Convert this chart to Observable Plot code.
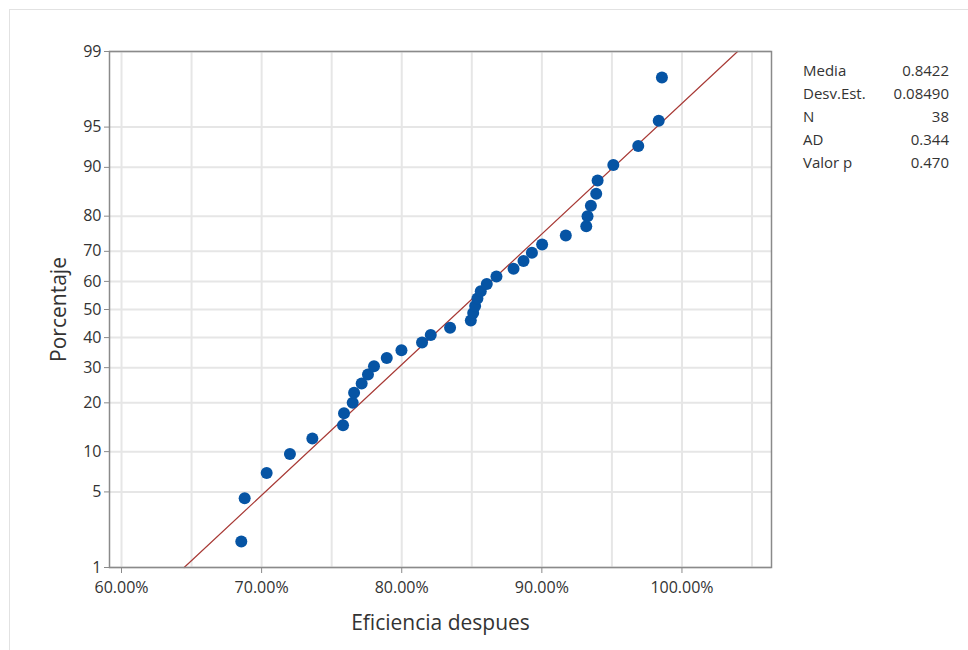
<!DOCTYPE html>
<html>
<head>
<meta charset="utf-8">
<script src="https://cdn.jsdelivr.net/npm/d3@7"></script>
<script src="https://cdn.jsdelivr.net/npm/@observablehq/plot@0.6"></script>
<style>
  html, body { margin: 0; padding: 0; background: #fff; }
  #wrap { position: relative; width: 968px; height: 650px; overflow: hidden; font-family: "Open Sans", "Noto Sans", sans-serif; }
  #border { position: absolute; left: 9px; top: 9px; width: 1200px; height: 1200px; border: 1.5px solid #e2e2e2; }
  #chart { position: absolute; left: 0; top: 0; }
  #stats { position: absolute; left: 803px; top: 59px; width: 146px; font-size: 15px; color: #333; }
  #stats div { display: flex; justify-content: space-between; height: 23px; line-height: 23px; }
</style>
</head>
<body>
<div id="wrap">
  <div id="border"></div>
  <div id="chart"></div>
  <div id="stats"></div>
</div>
<script>
// ---- data ----
const efficiency = [0.6855, 0.6879, 0.7036, 0.7202, 0.7362, 0.7581, 0.7588, 0.7650, 0.7660, 0.7714,
  0.7759, 0.7802, 0.7893, 0.7998, 0.8145, 0.8207, 0.8345, 0.8493, 0.8510, 0.8524,
  0.8540, 0.8564, 0.8607, 0.8676, 0.8798, 0.8869, 0.8929, 0.9002, 0.9171, 0.9317,
  0.9326, 0.9350, 0.9388, 0.9398, 0.9510, 0.9688, 0.9834, 0.9857];
const percent = [1.82, 4.43, 7.03, 9.64, 12.24, 14.84, 17.45, 20.05, 22.66, 25.26,
  27.86, 30.47, 33.07, 35.68, 38.28, 40.89, 43.49, 46.09, 48.70, 51.30,
  53.91, 56.51, 59.11, 61.72, 64.32, 66.93, 69.53, 72.14, 74.74, 77.34,
  79.95, 82.55, 85.16, 87.76, 90.36, 92.97, 95.57, 98.18];
const pctTicks = [1, 5, 10, 20, 30, 40, 50, 60, 70, 80, 90, 95, 99];
const xTicks = [0.6, 0.7, 0.8, 0.9, 1.0];
const xGrid = [0.6, 0.65, 0.7, 0.75, 0.8, 0.85, 0.9, 0.95, 1.0, 1.05];
const statLabels = ["Media", "Desv.Est.", "N", "AD", "Valor p"];
const statValues = ["0.8422", "0.08490", "38", "0.344", "0.470"];
const media = 0.8422, desv = 0.08490;
const linePct = [1, 99];

// inverse normal CDF (Acklam)
function probit(p) {
  const a = [-3.969683028665376e+01, 2.209460984245205e+02, -2.759285104469687e+02, 1.383577518672690e+02, -3.066479806614716e+01, 2.506628277459239e+00];
  const b = [-5.447609879822406e+01, 1.615858368580409e+02, -1.556989798598866e+02, 6.680131188771972e+01, -1.328068155288572e+01];
  const c = [-7.784894002430293e-03, -3.223964580411365e-01, -2.400758277161838e+00, -2.549732539343734e+00, 4.374664141464968e+00, 2.938163982698783e+00];
  const d = [7.784695709041462e-03, 3.224671290700398e-01, 2.445134137142996e+00, 3.754408661907416e+00];
  const pl = 0.02425, ph = 1 - pl;
  let q, r;
  if (p < pl) { q = Math.sqrt(-2 * Math.log(p)); return (((((c[0]*q+c[1])*q+c[2])*q+c[3])*q+c[4])*q+c[5]) / ((((d[0]*q+d[1])*q+d[2])*q+d[3])*q+1); }
  if (p > ph) { q = Math.sqrt(-2 * Math.log(1 - p)); return -(((((c[0]*q+c[1])*q+c[2])*q+c[3])*q+c[4])*q+c[5]) / ((((d[0]*q+d[1])*q+d[2])*q+d[3])*q+1); }
  q = p - 0.5; r = q * q;
  return (((((a[0]*r+a[1])*r+a[2])*r+a[3])*r+a[4])*r+a[5])*q / (((((b[0]*r+b[1])*r+b[2])*r+b[3])*r+b[4])*r+1);
}

const points = efficiency.map((e, i) => ({x: e, z: probit(percent[i] / 100)}));
const fitLine = linePct.map(p => ({x: media + probit(p / 100) * desv, z: probit(p / 100)}));
const zTicks = pctTicks.map(p => probit(p / 100));
const zLabel = d => { const i = zTicks.findIndex(z => Math.abs(z - d) < 1e-9); return i >= 0 ? String(pctTicks[i]) : ""; };

const chart = Plot.plot({
  width: 968,
  height: 650,
  marginLeft: 109,
  marginRight: 197,
  marginTop: 51,
  marginBottom: 83,
  style: {fontFamily: '"Open Sans", "Noto Sans", sans-serif', background: "transparent"},
  x: {domain: [0.59143, 1.0639]},
  y: {domain: [probit(0.01), probit(0.99)]},
  marks: [
    Plot.gridX({ticks: xGrid, stroke: "#e6e6e6", strokeOpacity: 1, strokeWidth: 2}),
    Plot.gridY({ticks: zTicks, stroke: "#e6e6e6", strokeOpacity: 1, strokeWidth: 2}),
    Plot.line(fitLine, {x: "x", y: "z", stroke: "#a83a36", strokeWidth: 1.2}),
    Plot.dot(points, {x: "x", y: "z", r: 6, fill: "#0654a4", stroke: "none"}),
    Plot.frame({stroke: "#8a8a8a", strokeWidth: 1.5}),
    Plot.axisX({ticks: xTicks, tickFormat: d => (d * 100).toFixed(2) + "%", tickSize: 6, tickPadding: 8,
      fontSize: 16, stroke: "#8a8a8a", fill: "#333", label: null}),
    Plot.axisY({ticks: zTicks, tickFormat: zLabel, tickSize: 5, tickPadding: 3,
      fontSize: 16, stroke: "#8a8a8a", fill: "#333", label: null}),
    Plot.text(["Eficiencia despues"], {frameAnchor: "bottom", dy: 56, lineAnchor: "middle", fontSize: 21, fill: "#333"}),
    Plot.text(["Porcentaje"], {frameAnchor: "left", dx: -50, rotate: -90, lineAnchor: "middle", textAnchor: "middle", fontSize: 21, fill: "#333"})
  ]
});
document.getElementById("chart").appendChild(chart);

const stats = document.getElementById("stats");
statLabels.forEach((l, i) => {
  const row = document.createElement("div");
  const a = document.createElement("span"); a.textContent = l;
  const b = document.createElement("span"); b.textContent = statValues[i];
  row.appendChild(a); row.appendChild(b);
  stats.appendChild(row);
});
</script>
</body>
</html>
